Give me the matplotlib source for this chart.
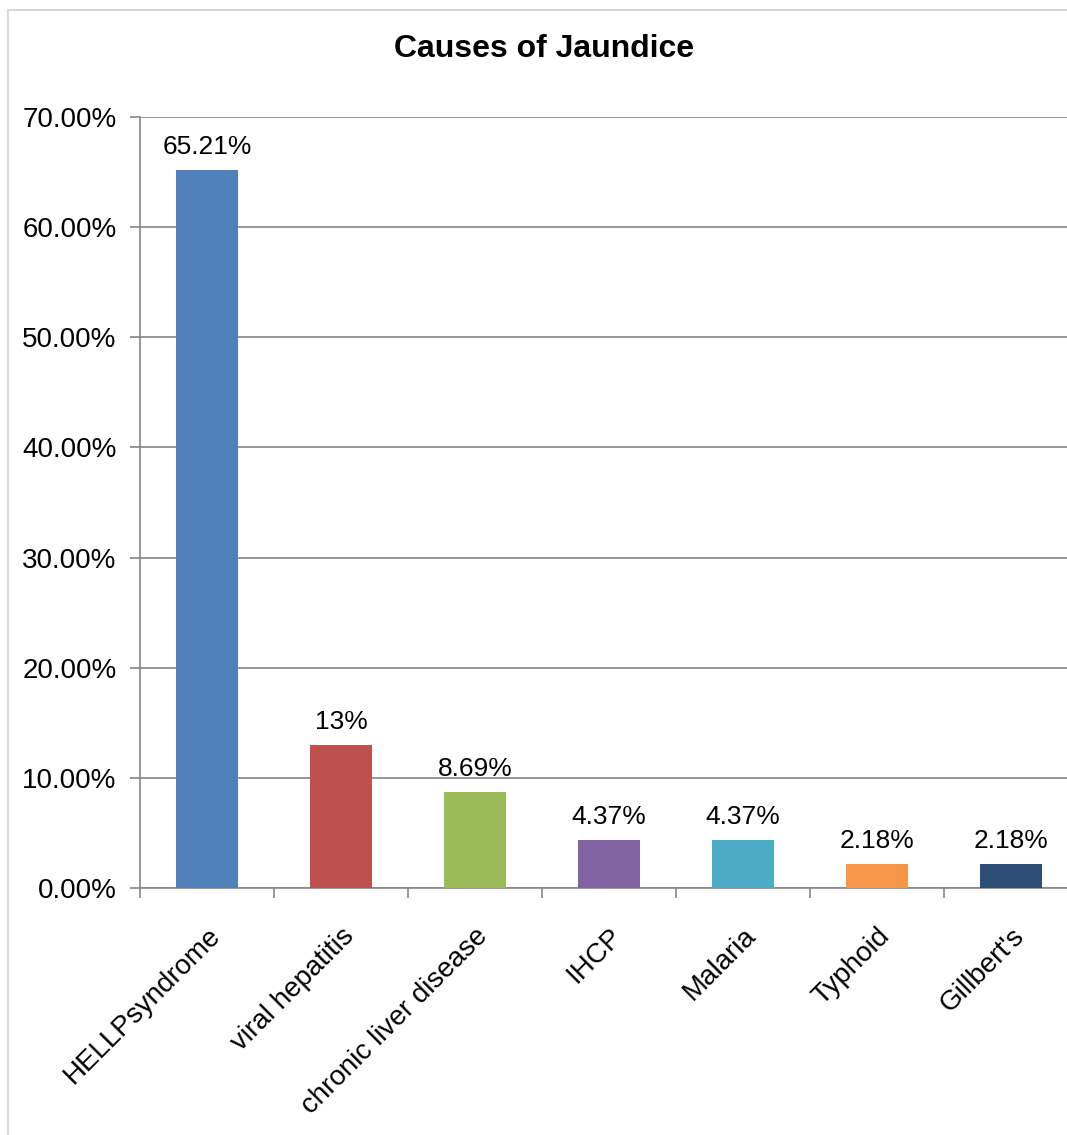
import matplotlib.pyplot as plt
import matplotlib.transforms as mtransforms
from matplotlib.patches import Rectangle
from matplotlib.ticker import FuncFormatter, FixedLocator

plt.rcParams['font.family'] = ['Liberation Sans', 'DejaVu Sans']

# Causes of jaundice, share of cases (%)
causes = ['HELLPsyndrome', 'viral hepatitis', 'chronic liver disease', 'IHCP',
          'Malaria', 'Typhoid', "Gillbert's"]
shares = [65.21, 13, 8.69, 4.37, 4.37, 2.18, 2.18]
value_labels = ['65.21%', '13%', '8.69%', '4.37%', '4.37%', '2.18%', '2.18%']
colors = ['#4F81BD', '#C0504D', '#9BBB59', '#8064A2', '#4BACC6', '#F79646', '#2C4D75']

fig = plt.figure(figsize=(10.67, 11.35), dpi=100)

# light outer chart border (cropped on the right and bottom like the original)
fig.patches.append(Rectangle((8 / 1067, -0.1), 1.2, 1.1 - 10 / 1135,
                             transform=fig.transFigure, fill=False,
                             edgecolor='#D9D9D9', linewidth=1.5))

ax = fig.add_axes([140 / 1067, 247 / 1135, 938 / 1067, 771 / 1135])

x = range(len(causes))
ax.bar(x, shares, width=0.47, color=colors, zorder=3)

for i, (v, lab) in enumerate(zip(shares, value_labels)):
    ax.annotate(lab, (i, v), xytext=(0, 8), textcoords='offset points',
                ha='center', va='bottom', fontsize=19)

ax.set_xlim(-0.5, len(causes) - 0.5)
ax.set_ylim(0, 70)
ax.set_yticks(range(0, 71, 10))
ax.yaxis.set_major_formatter(FuncFormatter(lambda v, p: f'{v:.2f}%'))
ax.grid(axis='y', color='#868686', linewidth=1.2, zorder=0)

ax.set_xticks(list(x))
ax.set_xticklabels(causes, rotation=45, ha='right', va='top', fontsize=20,
                   rotation_mode='anchor')
shift = mtransforms.ScaledTranslation(-6 / 100, 0, fig.dpi_scale_trans)
for lbl in ax.get_xticklabels():
    lbl.set_transform(lbl.get_transform() + shift)
ax.xaxis.set_minor_locator(FixedLocator([i - 0.5 for i in range(len(causes) + 1)]))
ax.tick_params(axis='x', which='major', length=0, pad=25)
ax.tick_params(axis='x', which='minor', length=7, width=1.2, color='#868686')
ax.tick_params(axis='y', length=7, width=1.2, color='#868686', labelsize=20, pad=10)

for s in ['top', 'right']:
    ax.spines[s].set_visible(False)
for s in ['left', 'bottom']:
    ax.spines[s].set_color('#868686')
    ax.spines[s].set_linewidth(1.2)

fig.text(544 / 1067, 1 - 49 / 1135, 'Causes of Jaundice', ha='center', va='center',
         fontsize=23, fontweight='bold')

fig.savefig('out.png', dpi=100)
